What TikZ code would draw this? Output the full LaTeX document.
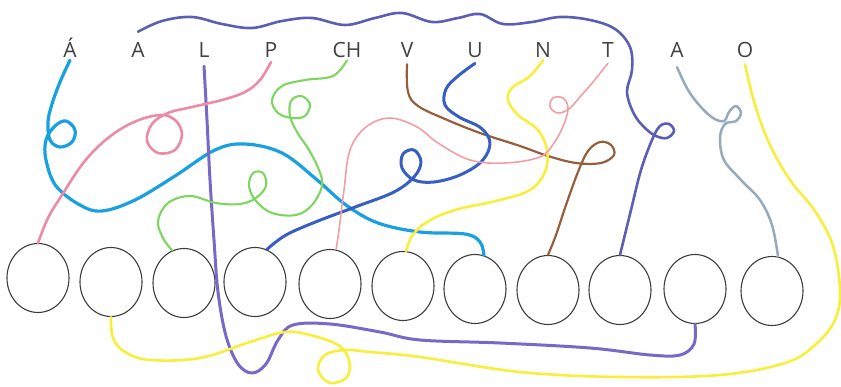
\documentclass[tikz,border=0pt]{standalone}
\usepackage{fontspec}
\setmainfont{Open Sans}
\usetikzlibrary{shapes.geometric}

\definecolor{lettergray}{RGB}{65,65,65}
\definecolor{ringgray}{RGB}{60,60,60}
\definecolor{skyink}{RGB}{25,160,225}
\definecolor{waveink}{RGB}{90,95,180}
\definecolor{violetink}{RGB}{120,105,200}
\definecolor{roseink}{RGB}{235,140,165}
\definecolor{greenink}{RGB}{125,215,95}
\definecolor{brownink}{RGB}{150,95,60}
\definecolor{blueink}{RGB}{55,95,195}
\definecolor{yellowink}{RGB}{250,238,60}
\definecolor{salmonink}{RGB}{240,160,165}
\definecolor{grayink}{RGB}{150,170,190}

\begin{document}
\begin{tikzpicture}[x=1pt, y=-1pt,
  letter/.style={font=\fontsize{21}{21}\selectfont, text=lettergray, anchor=base, inner sep=2pt},
  ring/.style={draw=ringgray, line width=1.1pt, ellipse, minimum width=62pt, minimum height=69pt, inner sep=0pt},
  strand/.style={line width=#1, line cap=round, line join=round}]
  \useasboundingbox (0,0) rectangle (841,387);

  % Letters
  \foreach \n/\x/\t in {1/70/Á, 2/138/A, 3/204/L, 4/271/P, 5/347/CH, 6/407/V,
                        7/475/U, 8/543/N, 9/608/T, 10/677/A, 11/745/O}
    \node[letter] (l\n) at (\x,58) {\t};

  % Empty circles
  \foreach \n/\x/\y in {1/38/278, 2/111/282, 3/184/283, 4/255/282, 5/330/284, 6/403/286,
                        7/475/289, 8/548/290, 9/620/290, 10/695/289, 11/772/291}
    \node[ring] (c\n) at (\x,\y) {};

  % Á
  \draw[strand=3.2pt, skyink] plot[smooth, tension=0.6] coordinates {
    (l1.south) (60,82) (52,104) (48,122) (50,140) (60,147) (72,142) (75,130) (66,121)
    (55,126) (46,140) (46,160) (56,186) (80,205) (102,211) (135,200) (175,176) (215,150)
    (245,144) (282,153) (316,179) (346,205) (378,223) (420,232) (465,234) (480,242) (c7.75)};

  % A (wavy over the top)
  \draw[strand=2.6pt, waveink] plot[smooth, tension=0.6] coordinates {
    ([yshift=9pt]l2.north) (162,21) (192,17) (222,24) (252,28) (282,21) (312,18) (345,25)
    (375,18) (402,13) (432,22) (458,18) (480,14) (503,24) (532,22) (560,17) (590,20)
    (615,29) (630,47) (632,70) (627,92) (634,114) (645,128) (656,136) (667,138) (674,131)
    (669,124) (660,126) (652,140) (641,170) (631,210) (c9.north)};

  % L
  \draw[strand=3pt, violetink] plot[smooth, tension=0.6] coordinates {
    ([yshift=-6pt]l3.south) (207,120) (210,180) (214,240) (218,292) (226,336) (238,364)
    (252,373) (266,364) (278,340) (293,325) (330,324) (380,332) (420,340) (500,343)
    (590,348) (650,355) (680,355) (694,344) (c10.south)};

  % P
  \draw[strand=2.6pt, roseink] plot[smooth, tension=0.6] coordinates {
    ([yshift=-2pt]l4.south) (260,80) (245,92) (222,100) (192,107) (168,113) (152,124)
    (147,141) (158,153) (175,150) (182,134) (175,120) (160,115) (134,122) (108,138)
    (84,162) (62,195) (48,218) (c1.north)};

  % CH
  \draw[strand=2.1pt, greenink] plot[smooth, tension=0.6] coordinates {
    (l5.south) (333,76) (305,80) (282,86) (272,100) (278,113) (292,118) (305,116)
    (310,104) (301,96) (291,101) (290,116) (297,132) (309,150) (319,170) (322,186)
    (312,205) (296,215) (272,213) (256,201) (249,186) (253,173) (263,173) (266,186)
    (256,198) (240,204) (216,203) (190,196) (168,203) (158,221) (163,238) (c3.110)};

  % V
  \draw[strand=2.2pt, brownink] plot[smooth, tension=0.6] coordinates {
    ([yshift=-4pt]l6.south) (408,92) (418,106) (445,119) (480,133) (520,146) (548,156)
    (576,163) (601,163) (614,155) (611,145) (600,142) (588,151) (578,172) (566,205)
    (556,235) (c8.north)};

  % U
  \draw[strand=3pt, blueink] plot[smooth, tension=0.6] coordinates {
    ([yshift=-3pt]l7.south) (458,76) (446,89) (445,105) (459,117) (481,128) (490,143)
    (482,161) (460,175) (434,182) (414,180) (402,168) (403,154) (414,150) (421,162)
    (414,177) (394,192) (358,206) (318,221) (286,235) (c4.70)};

  % N
  \draw[strand=2.6pt, yellowink] plot[smooth, tension=0.6] coordinates {
    (l8.south) (530,76) (512,88) (508,100) (518,115) (538,130) (547,150) (545,172)
    (530,190) (500,200) (455,210) (427,222) (412,236) (c6.85)};

  % T
  \draw[strand=1.6pt, salmonink] plot[smooth, tension=0.6] coordinates {
    ([yshift=-3pt]l9.south) (593,82) (579,98) (569,109) (558,113) (550,107) (553,98)
    (563,98) (568,108) (564,124) (554,143) (540,157) (505,163) (470,160) (438,143)
    (417,127) (390,118) (366,127) (350,150) (344,190) (339,230) (c5.80)};

  % A
  \draw[strand=2.5pt, grayink] plot[smooth, tension=0.6] coordinates {
    ([yshift=-7pt]l10.south) (688,90) (700,106) (713,118) (724,121) (729,112) (736,106)
    (741,113) (736,121) (725,124) (720,138) (724,160) (741,180) (760,200) (772,225) (c11.80)};

  % O
  \draw[strand=2.6pt, yellowink] plot[smooth, tension=0.6] coordinates {
    ([yshift=-4pt]l11.south) (755,105) (770,145) (790,180) (815,211) (833,246) (840,290)
    (835,320) (815,345) (785,363) (720,375) (620,377) (520,372) (420,357) (370,352)
    (345,350) (325,355) (318,370) (330,383) (347,377) (349,360) (338,345) (310,335)
    (285,332) (250,342) (200,358) (150,360) (125,352) (113,338) (c2.south)};
\end{tikzpicture}
\end{document}
